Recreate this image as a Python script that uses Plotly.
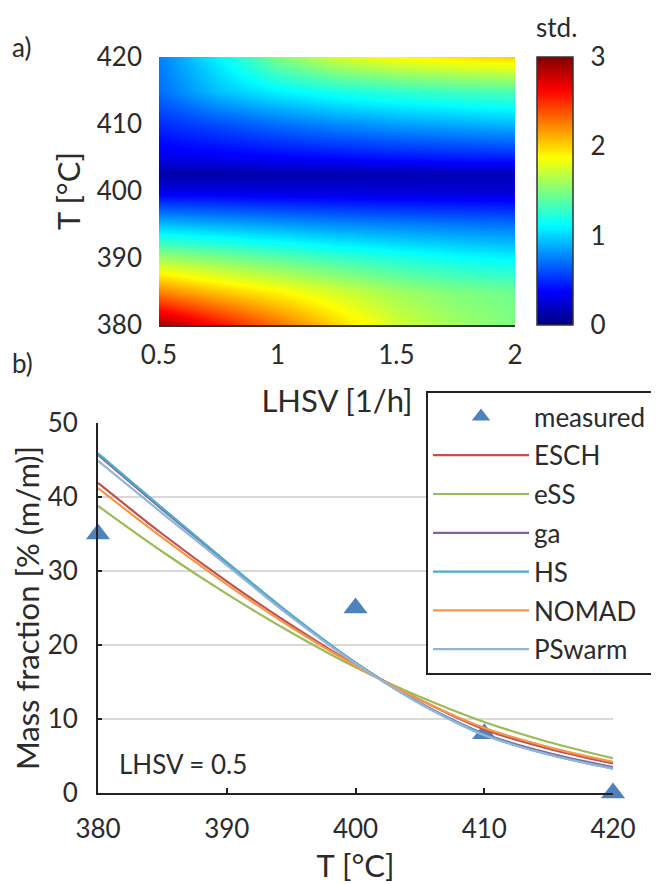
import plotly.graph_objects as go

# ---------- data: panel a) heatmap ----------
lhsv = [0.5, 0.75, 1.0, 1.25, 1.5, 1.75, 2.0]
temp_grid = [380, 385, 390, 395, 400, 402.5, 405, 410, 415, 420]
std_values = [
    [2.90, 2.60, 2.30, 2.00, 1.75, 1.60, 1.50],
    [2.25, 2.05, 1.90, 1.75, 1.60, 1.50, 1.45],
    [1.60, 1.50, 1.40, 1.30, 1.22, 1.15, 1.10],
    [0.95, 0.90, 0.85, 0.80, 0.77, 0.74, 0.72],
    [0.30, 0.30, 0.28, 0.27, 0.26, 0.25, 0.25],
    [0.12, 0.12, 0.13, 0.14, 0.15, 0.16, 0.17],
    [0.30, 0.33, 0.36, 0.39, 0.42, 0.44, 0.45],
    [0.50, 0.60, 0.70, 0.78, 0.84, 0.88, 0.92],
    [0.70, 0.95, 1.10, 1.20, 1.27, 1.32, 1.36],
    [0.75, 1.10, 1.50, 1.75, 1.88, 1.95, 2.00],
]

# ---------- data: panel b) ----------
meas_T = [380, 400, 410, 420]
meas_val = [35, 25, 8, 0]

T = [380, 385, 390, 395, 400, 405, 410, 415, 420]
ESCH = [41.9, 35.0, 28.6, 22.7, 17.3, 12.6, 8.6, 6.0, 4.0]
eSS = [38.8, 32.6, 26.9, 21.7, 17.0, 13.0, 9.6, 6.9, 4.7]
ga = [45.7, 38.3, 31.1, 24.0, 17.6, 12.2, 8.0, 5.4, 3.5]
HS = [45.9, 38.5, 31.2, 24.1, 17.6, 12.1, 7.9, 5.2, 3.3]
NOMAD = [41.2, 34.5, 28.2, 22.4, 17.2, 12.6, 8.8, 6.2, 4.2]
PSwarm = [44.9, 37.8, 30.8, 23.8, 17.5, 12.1, 7.8, 5.2, 3.3]

series = [("ESCH", ESCH, "#C0504D"), ("eSS", eSS, "#9BBB59"), ("ga", ga, "#8064A2"),
          ("HS", HS, "#4BACC6"), ("NOMAD", NOMAD, "#F79646"), ("PSwarm", PSwarm, "#95B3D7")]

FONT = "Lato"
FS = 26
TXT = "#2b2b2b"
jet = [[0.0, "rgb(0,0,128)"], [0.125, "rgb(0,0,255)"], [0.375, "rgb(0,255,255)"],
       [0.625, "rgb(255,255,0)"], [0.875, "rgb(255,0,0)"], [1.0, "rgb(128,0,0)"]]

# page has an 8px body margin: size the figure to fit and convert page pixels to paper
OFF = 8
W, H = 659 - OFF, 884 - OFF


def px(x):
    return (x - OFF) / W


def py(y):
    return 1 - (y - OFF) / H


fig = go.Figure()

fig.add_trace(go.Heatmap(
    x=lhsv, y=temp_grid, z=std_values, zmin=0, zmax=3, zsmooth="best",
    colorscale=jet, xaxis="x", yaxis="y", showlegend=False,
    colorbar=dict(x=px(537), xanchor="left", xpad=0, thickness=36, thicknessmode="pixels",
                  len=268/H, lenmode="fraction", y=py(191), yanchor="middle", ypad=0,
                  outlinecolor="#333333", outlinewidth=1.5,
                  tickvals=[0, 1, 2, 3], ticks="outside", ticklen=12,
                  tickcolor="rgba(0,0,0,0)",
                  tickfont=dict(family=FONT, size=FS, color=TXT)),
))

fig.add_trace(go.Scatter(
    x=meas_T, y=meas_val, mode="markers", name="measured",
    marker=dict(symbol="triangle-up", size=21, color="#4F81BD"),
    xaxis="x2", yaxis="y2", cliponaxis=False, legendgroup="m",
))
for name, vals, col in series:
    fig.add_trace(go.Scatter(
        x=T, y=vals, mode="lines", name=name, line=dict(color=col, width=2.2, shape="spline"),
        xaxis="x2", yaxis="y2", legendgroup=name,
    ))

fig.update_layout(
    width=W, height=H, margin=dict(l=0, r=0, t=0, b=0, autoexpand=False),
    paper_bgcolor="white", plot_bgcolor="white",
    font=dict(family=FONT, size=FS, color=TXT),
    xaxis=dict(domain=[px(159), px(515)], range=[0.5, 2], anchor="y", automargin=False,
               tickvals=[0.5, 1, 1.5, 2], ticktext=["0.5", "1", "1.5", "2"],
               showline=True, linecolor="#333333", linewidth=2, ticks="", ticklabelstandoff=6,
               showgrid=False, zeroline=False,
               title=dict(text="LHSV [1/h]", standoff=21)),
    yaxis=dict(domain=[py(325), py(57)], range=[380, 420], anchor="x", automargin=False,
               tickvals=[380, 390, 400, 410, 420], ticks="", ticklabelstandoff=16,
               showgrid=False, zeroline=False,
               title=dict(text="T [°C]", standoff=6)),
    xaxis2=dict(domain=[px(98), px(613)], range=[380, 420], anchor="y2", automargin=False,
                tickvals=[380, 390, 400, 410, 420], showline=True, linecolor="#222222",
                linewidth=2, ticks="inside", ticklen=5, tickwidth=2, tickcolor="#222222",
                ticklabelstandoff=12,
                showgrid=False, zeroline=False,
                title=dict(text="T [°C]", standoff=23)),
    yaxis2=dict(domain=[py(793), py(423)], range=[0, 50], anchor="x2", automargin=False,
                tickvals=[0, 10, 20, 30, 40, 50], showline=True, linecolor="#222222",
                linewidth=2, ticks="inside", ticklen=4, tickwidth=2, tickcolor="#222222",
                ticklabelstandoff=13,
                showgrid=True, gridcolor="#D9D9D9", gridwidth=1.5, zeroline=False,
                title=dict(text="Mass fraction [% (m/m)]", standoff=15)),
    legend=dict(x=px(426), y=py(391), xanchor="left", yanchor="top",
                bgcolor="white", bordercolor="#222222", borderwidth=2,
                font=dict(family=FONT, size=FS, color=TXT),
                traceorder="grouped", tracegroupgap=2, itemwidth=96),
    annotations=[
        dict(text="a)", x=px(10), y=py(47), xref="paper", yref="paper",
             xanchor="left", yanchor="middle", showarrow=False, font=dict(size=FS)),
        dict(text="b)", x=px(10), y=py(363), xref="paper", yref="paper",
             xanchor="left", yanchor="middle", showarrow=False, font=dict(size=FS)),
        dict(text="std.", x=px(556), y=py(27), xref="paper", yref="paper",
             xanchor="center", yanchor="middle", showarrow=False, font=dict(size=FS)),
        dict(text="LHSV = 0.5", x=px(117), y=py(764), xref="paper", yref="paper",
             xanchor="left", yanchor="middle", showarrow=False, font=dict(size=FS)),
    ],
)

fig.write_html("out.html")
